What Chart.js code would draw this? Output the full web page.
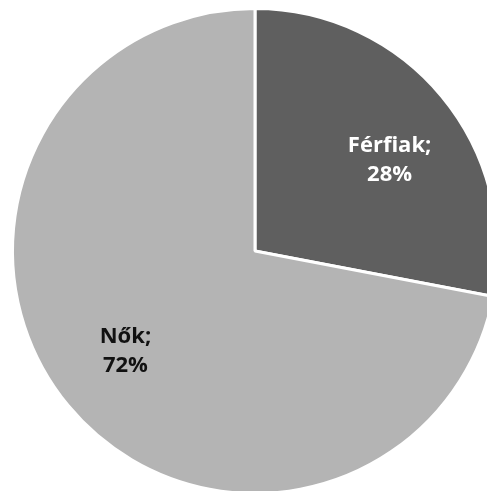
<!DOCTYPE html>
<html>
<head>
  <meta charset="UTF-8">
  <title>Férfiak / Nők</title>
  <script src="https://cdn.jsdelivr.net/npm/chart.js"></script>
  <style>
    html, body { margin: 0; padding: 0; background: #fff; overflow: hidden; }
    #wrap { width: 520px; height: 500px; }
  </style>
</head>
<body>
  <div id="wrap"><canvas id="chart" width="520" height="500"></canvas></div>

  <script>
    const labels = ['Férfiak', 'Nők'];
    const values = [28, 72];
    const colors = ['#5f5f5f', '#b4b4b4'];
    const textColors = ['#ffffff', '#111111'];
    const labelNudge = [[9, 11], [-4, -5]]; // kis eltolás, hogy olyan legyen mint az Excel-es

    // címkék: "Név;" + "xx%" a szelet közepén
    const sliceLabels = {
      id: 'sliceLabels',
      afterDatasetsDraw(chart) {
        const ctx = chart.ctx;
        const meta = chart.getDatasetMeta(0);
        const total = values.reduce((a, b) => a + b, 0);
        ctx.save();
        ctx.font = 'bold 22px "Open Sans"';
        ctx.textAlign = 'center';
        ctx.textBaseline = 'alphabetic';
        meta.data.forEach((arc, i) => {
          const mid = (arc.startAngle + arc.endAngle) / 2;
          const r = arc.outerRadius * 0.672;
          const x = arc.x + Math.cos(mid) * r + labelNudge[i][0];
          const y = arc.y + Math.sin(mid) * r + labelNudge[i][1];
          ctx.fillStyle = textColors[i];
          ctx.fillText(labels[i] + ';', x, y - 6.5);
          ctx.fillText(Math.round(values[i] / total * 100) + '%', x, y + 22.5);
        });
        ctx.restore();
      }
    };

    new Chart(document.getElementById('chart'), {
      type: 'pie',
      data: {
        labels: labels,
        datasets: [{
          data: values,
          backgroundColor: colors,
          borderColor: '#ffffff',
          borderWidth: 3
        }]
      },
      options: {
        responsive: false,
        animation: false,
        layout: { padding: { left: 11, top: 7, right: 21, bottom: 5 } },
        plugins: {
          legend: { display: false },
          tooltip: { enabled: false }
        }
      },
      plugins: [sliceLabels]
    });
  </script>
</body>
</html>
